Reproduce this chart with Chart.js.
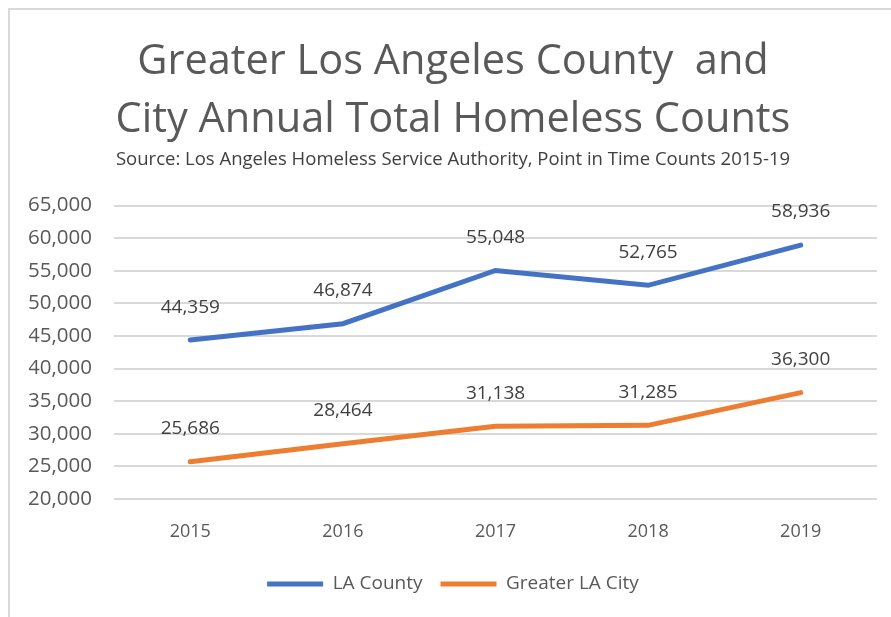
<!DOCTYPE html>
<html>
<head>
<meta charset="utf-8">
<script src="https://cdn.jsdelivr.net/npm/chart.js@4"></script>
<style>
  body { margin: 0; background: #fff; overflow: hidden; }
  #wrap {
    position: absolute; left: 8px; top: 8px;
    width: 881px; height: 607px;
    border-left: 2px solid #d9d9d9; border-top: 2px solid #d9d9d9;
  }
</style>
</head>
<body>
<div id="wrap"><canvas id="myChart"></canvas></div>
<script>
const years = ['2015', '2016', '2017', '2018', '2019'];
const laCounty = [44359, 46874, 55048, 52765, 58936];
const laCity = [25686, 28464, 31138, 31285, 36300];
const titleLines = ['Greater Los Angeles County  and', 'City Annual Total Homeless Counts'];
const subtitleText = 'Source: Los Angeles Homeless Service Authority, Point in Time Counts 2015-19';

const FONT = "'Open Sans', sans-serif";
const grey = '#595959';

// draws the value above each point
const valueLabels = {
  id: 'valueLabels',
  afterDatasetsDraw(chart) {
    const ctx = chart.ctx;
    ctx.save();
    ctx.font = '19px ' + FONT;
    ctx.fillStyle = '#404040';
    ctx.textAlign = 'center';
    ctx.textBaseline = 'middle';
    chart.data.datasets.forEach((ds, i) => {
      chart.getDatasetMeta(i).data.forEach((pt, j) => {
        ctx.fillText(ds.data[j].toLocaleString('en-US'), pt.x, pt.y - 33);
      });
    });
    ctx.restore();
  }
};

const ctx = document.getElementById('myChart');
new Chart(ctx, {
  type: 'line',
  data: {
    labels: years,
    datasets: [
      {
        label: 'LA County',
        data: laCounty,
        borderColor: '#4472C4',
        backgroundColor: '#4472C4',
        borderWidth: 5,
        borderCapStyle: 'round',
        pointRadius: 0,
        fill: false
      },
      {
        label: 'Greater LA City',
        data: laCity,
        borderColor: '#ED7D31',
        backgroundColor: '#ED7D31',
        borderWidth: 5,
        borderCapStyle: 'round',
        pointRadius: 0,
        fill: false
      }
    ]
  },
  options: {
    responsive: true,
    maintainAspectRatio: false,
    animation: false,
    layout: { padding: { left: 19, right: 14, top: 20, bottom: 13.5 } },
    plugins: {
      tooltip: { enabled: false },
      title: {
        display: true,
        text: titleLines,
        color: grey,
        font: { family: FONT, size: 41.5, weight: 'normal', lineHeight: 1.4 },
        padding: { top: 3, bottom: 0 }
      },
      subtitle: {
        display: true,
        text: subtitleText,
        color: '#404040',
        font: { family: FONT, size: 18.5, lineHeight: 1.1 },
        padding: { top: 0, bottom: 36 }
      },
      legend: {
        position: 'bottom',
        labels: {
          usePointStyle: true,
          pointStyle: 'line',
          pointStyleWidth: 56,
          color: grey,
          font: { family: FONT, size: 19 },
          padding: 18
        }
      }
    },
    scales: {
      x: {
        offset: true,
        grid: { display: false },
        border: { display: false },
        ticks: { color: grey, font: { family: FONT, size: 18 }, padding: 14 }
      },
      y: {
        min: 20000,
        max: 65000,
        afterFit: scale => { scale.width = 85; },
        ticks: {
          stepSize: 5000,
          color: grey,
          font: { family: FONT, size: 20.5 },
          padding: 22,
          callback: v => v.toLocaleString('en-US')
        },
        grid: { color: '#d9d9d9', lineWidth: 2, drawTicks: false },
        border: { display: false }
      }
    }
  },
  plugins: [valueLabels]
});
</script>
</body>
</html>
